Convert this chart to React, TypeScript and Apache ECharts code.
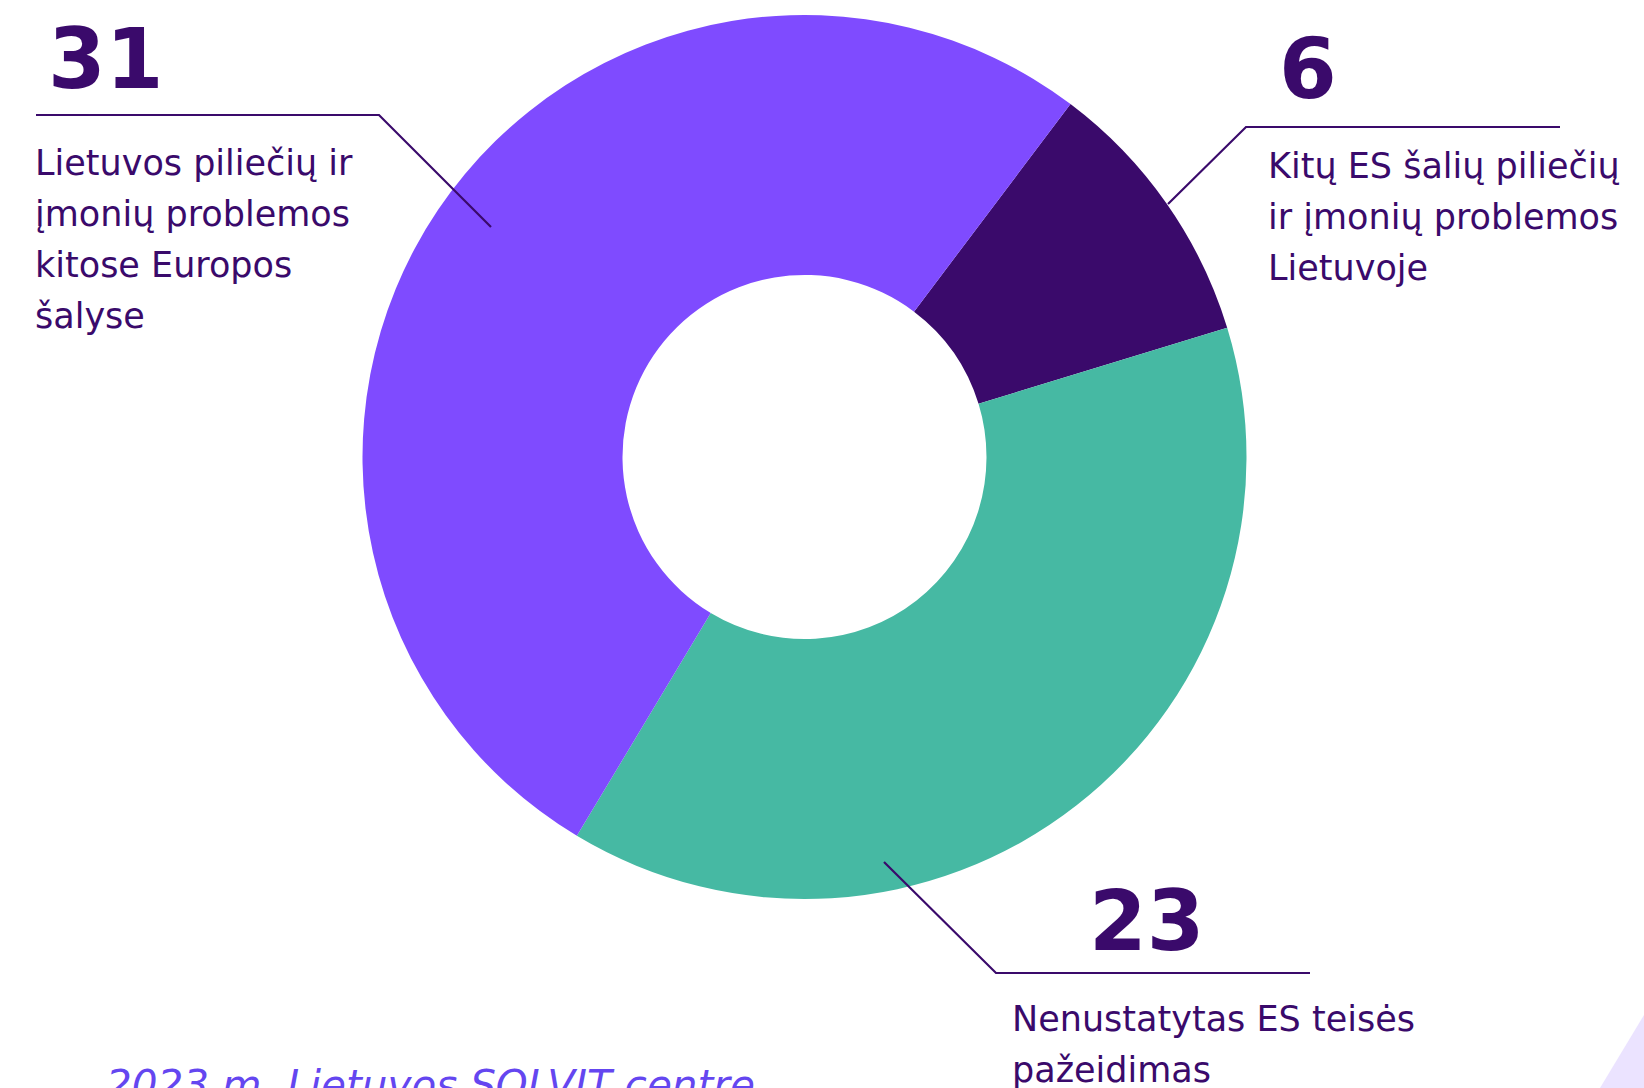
import React, { useEffect, useRef } from "react";
import * as echarts from "echarts";

const categories = [
  "Kitų ES šalių piliečių\nir įmonių problemos\nLietuvoje",
  "Nenustatytas ES teisės\npažeidimas",
  "Lietuvos piliečių ir\nįmonių problemos\nkitose Europos\nšalyse",
];
const values = [6, 23, 31];
const colors = ["#3a0a6b", "#46b9a3", "#7f4bff"];
const footer = "2023 m. Lietuvos SOLVIT centre";

const TEXT = "#3a0a6b";
const FONT = "DejaVu Sans, Verdana, sans-serif";

export default function App() {
  const ref = useRef<HTMLDivElement>(null);
  useEffect(() => {
    if (!ref.current) return;
    const chart = echarts.init(ref.current, null, { renderer: "svg" });
    const line = (points: number[][]) => ({
      type: "polyline",
      shape: { points },
      style: { stroke: TEXT, lineWidth: 2.2, fill: null },
      z: 10,
    });
    const bigNum = (text: string, x: number, y: number) => ({
      type: "text",
      x,
      y,
      style: {
        text,
        fill: TEXT,
        font: `bold 83px ${FONT}`,
        verticalAlign: "middle",
        align: "left",
      },
      z: 10,
    });
    const label = (text: string, x: number, y: number) => ({
      type: "text",
      x,
      y,
      style: {
        text,
        fill: TEXT,
        font: `35px ${FONT}`,
        lineHeight: 51,
        verticalAlign: "top",
        align: "left",
      },
      z: 10,
    });
    chart.setOption({
      animation: false,
      backgroundColor: "#ffffff",
      series: [
        {
          type: "pie",
          center: [804.5, 457],
          radius: [182, 442],
          startAngle: 53,
          clockwise: true,
          label: { show: false },
          labelLine: { show: false },
          emphasis: { disabled: true },
          silent: true,
          itemStyle: { borderWidth: 0 },
          data: values.map((v, i) => ({
            value: v,
            name: categories[i],
            itemStyle: { color: colors[i] },
          })),
        },
      ],
      graphic: [
        bigNum(String(values[2]), 48, 59),
        line([
          [36, 115],
          [379, 115],
          [491, 227],
        ]),
        label(categories[2], 35, 137),
        bigNum(String(values[0]), 1279, 69),
        line([
          [1560, 127],
          [1246, 127],
          [1168, 204],
        ]),
        label(categories[0], 1268, 140),
        bigNum(String(values[1]), 1089, 921),
        line([
          [884, 862],
          [996, 973],
          [1310, 973],
        ]),
        label(categories[1], 1012, 993),
        {
          type: "text",
          x: 106,
          y: 1085,
          style: {
            text: footer,
            fill: "#6446f0",
            font: `italic 40.5px ${FONT}`,
            verticalAlign: "middle",
            align: "left",
          },
        },
        {
          type: "polygon",
          shape: {
            points: [
              [1600, 1088],
              [1644, 1015],
              [1644, 1088],
            ],
          },
          style: { fill: "#ebe3ff" },
        },
      ],
    });
    return () => chart.dispose();
  }, []);
  return (
    <div
      ref={ref}
      style={{ position: "absolute", left: 0, top: 0, width: 1644, height: 1088 }}
    />
  );
}
